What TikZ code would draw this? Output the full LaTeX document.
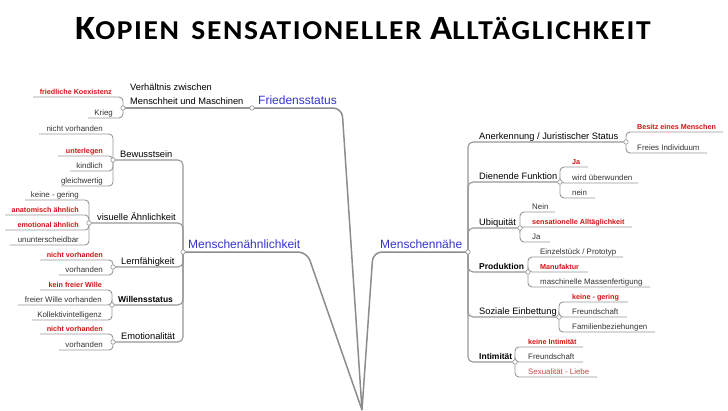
\documentclass[tikz,border=0pt]{standalone}
\usepackage{fontspec}
\setmainfont{Liberation Sans}
\newfontfamily\titlefont[LetterSpace=6,FakeStretch=1.08]{Carlito}
\pgfdeclarelayer{bg}
\pgfsetlayers{bg,main}
\definecolor{mainblue}{RGB}{51,51,204}
\definecolor{leafred}{RGB}{210,20,20}
\definecolor{softred}{RGB}{196,72,72}
\definecolor{linegray}{RGB}{150,150,150}
\definecolor{trunkgray}{RGB}{140,140,140}
\newcommand\leftleaf[7]{%
  \node[#6, anchor=base east] (#1) at (#3,#5-2.5) {#7};
  \coordinate (#1-u) at (#4,#5);
  \begin{pgfonlayer}{bg}\draw[leafline] (#2.center) |- (#1-u);\end{pgfonlayer}%
}
\newcommand\rightleaf[7]{%
  \node[#6, anchor=base west] (#1) at (#3,#5-2.5) {#7};
  \coordinate (#1-u) at (#4,#5);
  \begin{pgfonlayer}{bg}\draw[leafline] (#2.center) |- (#1-u);\end{pgfonlayer}%
}
\begin{document}
\begin{tikzpicture}[x=1pt,y=-1pt,
  knot/.style={circle, draw=linegray, fill=white, line width=0.6pt, inner sep=0pt, minimum size=4.4pt},
  mainnode/.style={inner sep=0pt, text=mainblue, font=\fontsize{12}{14}\selectfont},
  midnode/.style={inner sep=0pt, text=black, font=\fontsize{9.3}{11}\selectfont},
  midbold/.style={inner sep=0pt, text=black, font=\fontsize{8.5}{10}\selectfont\bfseries},
  leaf/.style={inner sep=0pt, text=black!80, font=\fontsize{7.9}{9}\selectfont},
  leafr/.style={inner sep=0pt, text=leafred, font=\fontsize{7.2}{9}\selectfont\bfseries},
  leafs/.style={inner sep=0pt, text=softred, font=\fontsize{7.9}{9}\selectfont},
  leafline/.style={draw=linegray, line width=0.9pt, rounded corners=4pt},
  midline/.style={draw=linegray, line width=1.1pt, rounded corners=5pt},
  trunk/.style={draw=trunkgray, line width=1.5pt, rounded corners=9pt}]
\useasboundingbox (0,0) rectangle (728,410);

% title
\node[anchor=base west, inner sep=0pt, font=\titlefont\bfseries] (title) at (75,39)
  {{\fontsize{34}{34}\selectfont K}{\fontsize{27.3}{30}\selectfont OPIEN\hspace{4pt} SENSATIONELLER }{\fontsize{34}{34}\selectfont A}{\fontsize{27.3}{30}\selectfont LLTÄGLICHKEIT}};

% knots
\node[knot] (fs-c) at (252,108) {};
\node[knot] (vh-c) at (123,108) {};
\node[knot] (mae-c) at (183,252) {};
\node[knot] (bew-c) at (113,160) {};
\node[knot] (vis-c) at (89,223) {};
\node[knot] (lern-c) at (113,267) {};
\node[knot] (will-c) at (112,305) {};
\node[knot] (emo-c) at (113,342) {};
\node[knot] (mn-c) at (468,252) {};
\node[knot] (an-c) at (626,142) {};
\node[knot] (dien-c) at (560,182) {};
\node[knot] (ubi-c) at (520,228) {};
\node[knot] (prod-c) at (528,272) {};
\node[knot] (soz-c) at (559,317) {};
\node[knot] (int-c) at (515,362) {};

% root and main branches
\coordinate (root) at (362,410);
\coordinate (fs-e) at (342,108);
\coordinate (mae-e) at (307,252);
\coordinate (mn-e) at (373,252);
\node[mainnode, anchor=base west] (fs) at (258,104.5) {Friedensstatus};
\node[mainnode, anchor=base west] (mae) at (188,248.5) {Menschenähnlichkeit};
\node[mainnode, anchor=base west] (mn) at (380,248.5) {Menschennähe};
\begin{pgfonlayer}{bg}
\draw[trunk] (fs-c.center) -- (fs-e) -- (root);
\draw[trunk] (mae-c.center) -- (mae-e) -- (root);
\draw[trunk] (mn-c.center) -- (mn-e) -- (root);
\end{pgfonlayer}

% mid nodes, left
\node[midnode, anchor=base west, align=left, font=\fontsize{9.3}{14.3}\selectfont] (vh) at (130,104.5) {Verhältnis zwischen\\Menschheit und Maschinen};
\node[midnode, anchor=base west] (bew) at (120,157) {Bewusstsein};
\node[midnode, anchor=base west] (vis) at (97,220) {visuelle Ähnlichkeit};
\node[midnode, anchor=base west] (lern) at (121,264) {Lernfähigkeit};
\node[midbold, anchor=base west] (will) at (118,302) {Willensstatus};
\node[midnode, anchor=base west] (emo) at (121,339) {Emotionalität};
\begin{pgfonlayer}{bg}
\draw[midline] (fs-c.center) -- (vh-c.center);
\draw[midline] (mae-c.center) |- (bew-c.center);
\draw[midline] (mae-c.center) |- (vis-c.center);
\draw[midline] (mae-c.center) |- (lern-c.center);
\draw[midline] (mae-c.center) |- (will-c.center);
\draw[midline] (mae-c.center) |- (emo-c.center);
\end{pgfonlayer}

% mid nodes, right
\node[midnode, anchor=base west] (an) at (479,139) {Anerkennung / Juristischer Status};
\node[midnode, anchor=base west] (dien) at (479,179) {Dienende Funktion};
\node[midnode, anchor=base west] (ubi) at (479,225) {Ubiquität};
\node[midbold, anchor=base west] (prod) at (479,269) {Produktion};
\node[midnode, anchor=base west] (soz) at (479,314) {Soziale Einbettung};
\node[midbold, anchor=base west] (int) at (479,359) {Intimität};
\begin{pgfonlayer}{bg}
\draw[midline] (mn-c.center) |- (an-c.center);
\draw[midline] (mn-c.center) |- (dien-c.center);
\draw[midline] (mn-c.center) |- (ubi-c.center);
\draw[midline] (mn-c.center) |- (prod-c.center);
\draw[midline] (mn-c.center) |- (soz-c.center);
\draw[midline] (mn-c.center) |- (int-c.center);
\end{pgfonlayer}

% left leaves
\leftleaf{vh1}{vh-c}{112}{33}{97}{leafr}{friedliche Koexistenz}
\leftleaf{vh2}{vh-c}{113}{88}{118}{leaf}{Krieg}
\leftleaf{bew1}{bew-c}{103}{39}{134}{leaf}{nicht vorhanden}
\leftleaf{bew2}{bew-c}{103}{58}{156}{leafr}{unterlegen}
\leftleaf{bew3}{bew-c}{103}{70}{171}{leaf}{kindlich}
\leftleaf{bew4}{bew-c}{103}{61}{186}{leaf}{gleichwertig}
\leftleaf{vis1}{vis-c}{79}{25}{200}{leaf}{keine - gering}
\leftleaf{vis2}{vis-c}{79}{5}{215}{leafr}{anatomisch ähnlich}
\leftleaf{vis3}{vis-c}{79}{5}{230}{leafr}{emotional ähnlich}
\leftleaf{vis4}{vis-c}{79}{10}{245}{leaf}{ununterscheidbar}
\leftleaf{lern1}{lern-c}{103}{40}{260}{leafr}{nicht vorhanden}
\leftleaf{lern2}{lern-c}{103}{59}{275}{leaf}{vorhanden}
\leftleaf{will1}{will-c}{102}{40}{290}{leafr}{kein freier Wille}
\leftleaf{will2}{will-c}{102}{18}{305}{leaf}{freier Wille vorhanden}
\leftleaf{will3}{will-c}{102}{32}{320}{leaf}{Kollektivintelligenz}
\leftleaf{emo1}{emo-c}{103}{40}{334}{leafr}{nicht vorhanden}
\leftleaf{emo2}{emo-c}{103}{59}{350}{leaf}{vorhanden}

% right leaves
\rightleaf{an1}{an-c}{637}{723}{132}{leafr}{Besitz eines Menschen}
\rightleaf{an2}{an-c}{637}{707}{153}{leaf}{Freies Individuum}
\rightleaf{dien1}{dien-c}{572}{588}{167}{leafr}{Ja}
\rightleaf{dien2}{dien-c}{572}{638}{183}{leaf}{wird überwunden}
\rightleaf{dien3}{dien-c}{572}{595}{198}{leaf}{nein}
\rightleaf{ubi1}{ubi-c}{532}{555}{212}{leaf}{Nein}
\rightleaf{ubi2}{ubi-c}{532}{632}{227}{leafr}{sensationelle Alltäglichkeit}
\rightleaf{ubi3}{ubi-c}{532}{550}{242}{leaf}{Ja}
\rightleaf{prod1}{prod-c}{540}{623}{257}{leaf}{Einzelstück / Prototyp}
\rightleaf{prod2}{prod-c}{540}{588}{272}{leafr}{Manufaktur}
\rightleaf{prod3}{prod-c}{540}{650}{287}{leaf}{maschinelle Massenfertigung}
\rightleaf{soz1}{soz-c}{572}{628}{302}{leafr}{keine - gering}
\rightleaf{soz2}{soz-c}{572}{627}{317}{leaf}{Freundschaft}
\rightleaf{soz3}{soz-c}{572}{655}{332}{leaf}{Familienbeziehungen}
\rightleaf{int1}{int-c}{528}{583}{347}{leafr}{keine Intimität}
\rightleaf{int2}{int-c}{528}{583}{362}{leaf}{Freundschaft}
\rightleaf{int3}{int-c}{528}{597}{377}{leafs}{Sexualität - Liebe}
\end{tikzpicture}
\end{document}
